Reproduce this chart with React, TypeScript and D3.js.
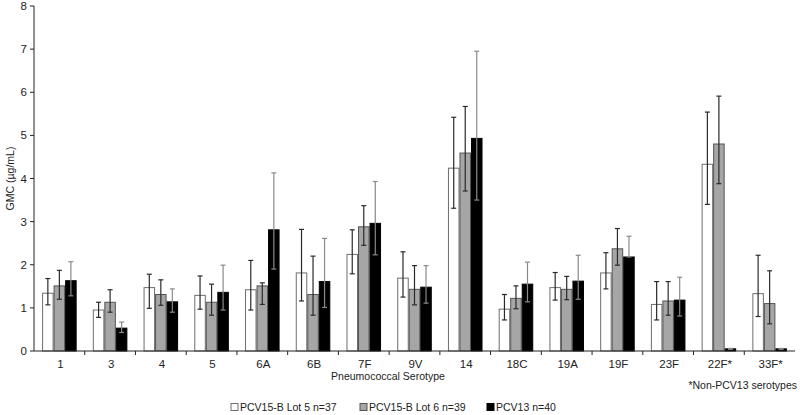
import React from "react";
import * as d3 from "d3";

const categories = ["1", "3", "4", "5", "6A", "6B", "7F", "9V", "14", "18C", "19A", "19F", "23F", "22F*", "33F*"];
const lot5 = [1.34, 0.95, 1.47, 1.29, 1.42, 1.81, 2.24, 1.69, 4.24, 0.97, 1.47, 1.81, 1.08, 4.33, 1.33];
const lot5Lo = [1.07, 0.78, 0.99, 0.97, 0.95, 1.16, 1.79, 1.25, 3.31, 0.72, 1.18, 1.44, 0.72, 3.4, 0.8];
const lot5Hi = [1.68, 1.13, 1.78, 1.74, 2.1, 2.82, 2.81, 2.3, 5.42, 1.31, 1.82, 2.28, 1.61, 5.54, 2.22];
const lot6 = [1.51, 1.13, 1.31, 1.13, 1.51, 1.31, 2.88, 1.43, 4.59, 1.22, 1.43, 2.37, 1.16, 4.8, 1.1];
const lot6Lo = [1.2, 0.9, 1.06, 0.83, 1.08, 0.83, 2.45, 1.07, 3.71, 0.98, 1.19, 1.99, 0.83, 3.88, 0.63];
const lot6Hi = [1.87, 1.42, 1.65, 1.55, 1.58, 2.2, 3.37, 1.98, 5.67, 1.51, 1.73, 2.84, 1.61, 5.91, 1.86];
const pcv13 = [1.63, 0.53, 1.14, 1.36, 2.81, 1.61, 2.96, 1.48, 4.93, 1.55, 1.62, 2.18, 1.18, 0.05, 0.05];
const pcv13Lo = [1.28, 0.43, 0.9, 0.95, 1.9, 1.01, 2.23, 1.11, 3.5, 1.14, 1.2, 2.18, 0.81, 0.04, 0.04];
const pcv13Hi = [2.07, 0.67, 1.44, 1.99, 4.13, 2.61, 3.93, 1.98, 6.95, 2.06, 2.22, 2.66, 1.71, 0.06, 0.06];
const yTicks = [0, 1, 2, 3, 4, 5, 6, 7, 8];
const seriesNames = ["PCV15-B Lot 5 n=37", "PCV15-B Lot 6 n=39", "PCV13 n=40"];

const series = [
  { name: seriesNames[0], v: lot5, lo: lot5Lo, hi: lot5Hi, fill: "#ffffff", stroke: "#6e6e6e", err: "#2a2a2a" },
  { name: seriesNames[1], v: lot6, lo: lot6Lo, hi: lot6Hi, fill: "#a6a6a6", stroke: "#555555", err: "#2a2a2a" },
  { name: seriesNames[2], v: pcv13, lo: pcv13Lo, hi: pcv13Hi, fill: "#000000", stroke: "#000000", err: "#8a8a8a" },
];

const FONT = "'Liberation Sans', Arial, sans-serif";

export default function App() {
  const left = 34, right = 795, top = 6, bottom = 351;
  const x = d3.scaleBand<string>().domain(categories).range([left, right]).padding(0);
  const y = d3.scaleLinear().domain([0, 8]).range([bottom, top]);
  const bw = x.bandwidth();
  const barW = bw * 0.227;
  const cap = 2.5;
  const legendX = [231, 360, 487];

  return (
    <svg width={800} height={415} style={{ position: "absolute", left: 0, top: 0, background: "#fff" }}>
      {categories.map((c, i) => {
        const cx = (x(c) as number) + bw / 2;
        return series.map((s, j) => {
          const bx = cx + (j - 1.5) * barW;
          const yv = y(s.v[i]);
          const mx = bx + barW / 2;
          return (
            <g key={c + j}>
              <rect x={bx + 0.5} y={yv} width={barW - 1} height={bottom - yv} fill={s.fill} stroke={s.stroke} strokeWidth={1} />
              <line x1={mx} x2={mx} y1={y(s.hi[i])} y2={y(s.lo[i])} stroke={s.err} strokeWidth={1.2} />
              <line x1={mx - cap} x2={mx + cap} y1={y(s.hi[i])} y2={y(s.hi[i])} stroke={s.err} strokeWidth={1.2} />
              <line x1={mx - cap} x2={mx + cap} y1={y(s.lo[i])} y2={y(s.lo[i])} stroke={s.err} strokeWidth={1.2} />
            </g>
          );
        });
      })}
      <line x1={left} x2={left} y1={top} y2={bottom} stroke="#222" strokeWidth={1} />
      {yTicks.map((t) => (
        <g key={t}>
          <line x1={left - 4} x2={left} y1={y(t)} y2={y(t)} stroke="#222" />
          <text x={left - 7} y={y(t)} dy="0.35em" textAnchor="end" fontFamily={FONT} fontSize={11.5} fill="#222">{t}</text>
        </g>
      ))}
      <line x1={left} x2={right} y1={bottom} y2={bottom} stroke="#222" strokeWidth={1} />
      {categories.map((c, i) => (
        <g key={"xt" + c}>
          {i > 0 && <line x1={x(c) as number} x2={x(c) as number} y1={bottom} y2={bottom + 4} stroke="#222" />}
          <text x={(x(c) as number) + bw / 2 + 1} y={368} textAnchor="middle" fontFamily={FONT} fontSize={11.5} fill="#222">{c}</text>
        </g>
      ))}
      <text x={388} y={380} textAnchor="middle" fontFamily={FONT} fontSize={10.5} fill="#222">Pneumococcal Serotype</text>
      <text x={797} y={389} textAnchor="end" fontFamily={FONT} fontSize={10.5} fill="#222">*Non-PCV13 serotypes</text>
      <text transform={`translate(14,${(top + bottom) / 2}) rotate(-90)`} textAnchor="middle" fontFamily={FONT} fontSize={10.5} fill="#222">GMC (µg/mL)</text>
      {series.map((s, j) => (
        <g key={"lg" + j}>
          <rect x={legendX[j]} y={403.5} width={7} height={7} fill={s.fill} stroke={s.stroke} />
          <text x={legendX[j] + 9} y={410.5} fontFamily={FONT} fontSize={10.5} fill="#222">{s.name}</text>
        </g>
      ))}
    </svg>
  );
}
